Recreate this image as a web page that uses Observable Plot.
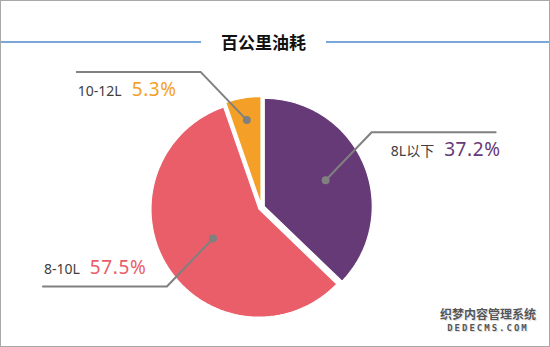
<!DOCTYPE html>
<html><head><meta charset="utf-8">
<script src="https://cdn.jsdelivr.net/npm/d3@7"></script>
<script src="https://cdn.jsdelivr.net/npm/@observablehq/plot@0.6"></script>
<style>
body{margin:0;background:#fff}
#wrap{position:relative;width:550px;height:347px;overflow:hidden;font-family:"Noto Sans","Noto Sans CJK SC",sans-serif}
#chart{position:absolute;left:0;top:0}
#frame{position:absolute;left:0;top:0;width:550px;height:347px;border:1px solid #a8a8a8;box-sizing:border-box;pointer-events:none}
#title{position:absolute;left:0;top:30px;width:550px;height:24px;display:flex;align-items:center}
#title .ln{height:1.5px;background:#7aa7d8}
#title .l{width:201px;flex:none}
#title .r{flex:1}
#title span{font-family:"Noto Sans CJK SC",sans-serif;font-weight:700;font-size:17px;color:#111;margin:0 20px;line-height:24px}
#wm{position:absolute;left:436px;top:308px;width:104px;text-align:center;color:#555;font-family:"Noto Sans CJK SC",sans-serif;font-weight:700;line-height:1;white-space:nowrap;text-shadow:0 0 1px #fff,1px 1px 0 #ddd}
#wm .a{font-size:12px}
#wm .b{font-size:9px;letter-spacing:2px;margin-top:4px;font-family:"DejaVu Sans Mono",monospace}
</style></head>
<body>
<div id="wrap">
  <div id="chart"></div>
  <div id="title"><div class="ln l"></div><span>百公里油耗</span><div class="ln r"></div></div>
  <div id="wm"><div class="a">织梦内容管理系统</div><div class="b">DEDECMS.COM</div></div>
  <div id="frame"></div>
</div>
<script>
// ---- data ----
const categories = ["8L以下", "8-10L", "10-12L"];
const shares = [37.2, 57.5, 5.3];
const sliceColors = ["#663977", "#e95e68", "#f4a028"];

// ---- layout ----
const W = 550, H = 347, cx = 261, cy = 207, R = 108, explode = 3;
const k = 1 / R; // px -> data units

const rows = categories.map((name, i) => ({name, share: shares[i], color: sliceColors[i]}));
const arcs = d3.pie().sort(null).value(d => d.share)(rows);

// slice polygons derived from pie angles
const slices = arcs.map(a => {
  const mid = (a.startAngle + a.endAngle) / 2;
  const ox = explode * k * Math.sin(mid), oy = -explode * k * Math.cos(mid);
  const pts = [{x: ox, y: oy}];
  const n = Math.max(4, Math.ceil((a.endAngle - a.startAngle) / (Math.PI / 180)));
  for (let j = 0; j <= n; j++) {
    const t = a.startAngle + (a.endAngle - a.startAngle) * j / n;
    pts.push({x: ox + Math.sin(t), y: oy - Math.cos(t)});
  }
  pts.push({x: ox, y: oy});
  return {color: a.data.color, pts};
});

// leader lines & labels
const labels = arcs.map(a => {
  const mid = (a.startAngle + a.endAngle) / 2;
  const frac = 0.85 - 0.55 * a.data.share / 100;
  const dx0 = frac * Math.sin(mid), dy0 = -frac * Math.cos(mid);
  const sx = Math.sin(mid) >= 0 ? 1 : -1;
  const sy = -Math.cos(mid) >= 0 ? 1 : -1;
  const ex = dx0 + sx * 46 * k, ey = dy0 + sy * 48 * k;
  const endx = ex + sx * 124 * k;
  const ty = ey + (sy < 0 ? 19 : -17) * k;
  return {name: a.data.name, pct: a.data.share.toFixed(1) + "%", color: a.data.color,
          dot: {x: dx0, y: dy0}, line: [{x: dx0, y: dy0}, {x: ex, y: ey}, {x: endx, y: ey}],
          tx: endx, ty, side: sx};
});
const right = labels.filter(d => d.side > 0);
const left = labels.filter(d => d.side < 0);

const marks = [];
for (const s of slices) {
  marks.push(Plot.line(s.pts, {x: "x", y: "y", fill: s.color, stroke: "white", strokeWidth: 1.2, strokeLinejoin: "miter"}));
}
for (const l of labels) {
  marks.push(Plot.line(l.line, {x: "x", y: "y", stroke: "#808080", strokeWidth: 2}));
}
marks.push(Plot.dot(labels.map(l => l.dot), {x: "x", y: "y", r: 4, fill: "#808080", stroke: "none"}));
marks.push(Plot.text(right, {x: "tx", y: "ty", text: "name", textAnchor: "end", dx: 5, fontSize: 14, fill: "#404040", ariaDescription: "label-right"}));
marks.push(Plot.text(left, {x: "tx", y: "ty", text: "name", textAnchor: "start", dx: 1, fontSize: 14, fill: "#404040", ariaDescription: "label-left"}));

const plot = Plot.plot({
  width: W, height: H,
  margin: 0,
  x: {domain: [-cx * k, (W - cx) * k], range: [0, W], axis: null},
  y: {domain: [-cy * k, (H - cy) * k], range: [0, H], axis: null},
  style: {fontFamily: '"Noto Sans","Noto Sans CJK SC",sans-serif', background: "white"},
  marks
});

function addPct(desc, data) {
  let groups = d3.select(plot).selectAll(`g[aria-description="${desc}"]`);
  if (groups.empty()) {
    const all = d3.select(plot).selectAll('g[aria-label="text"]').nodes();
    groups = d3.select(desc === "label-right" ? all[0] : all[1]);
  }
  groups.selectAll("text").each(function(_, i) {
    d3.select(this).append("tspan").attr("dx", 10).attr("font-size", 19)
      .attr("letter-spacing", 0.6)
      .attr("fill", data[i].color).text(data[i].pct);
  });
}
addPct("label-right", right);
addPct("label-left", left);

document.getElementById("chart").appendChild(plot);
</script>
</body></html>
